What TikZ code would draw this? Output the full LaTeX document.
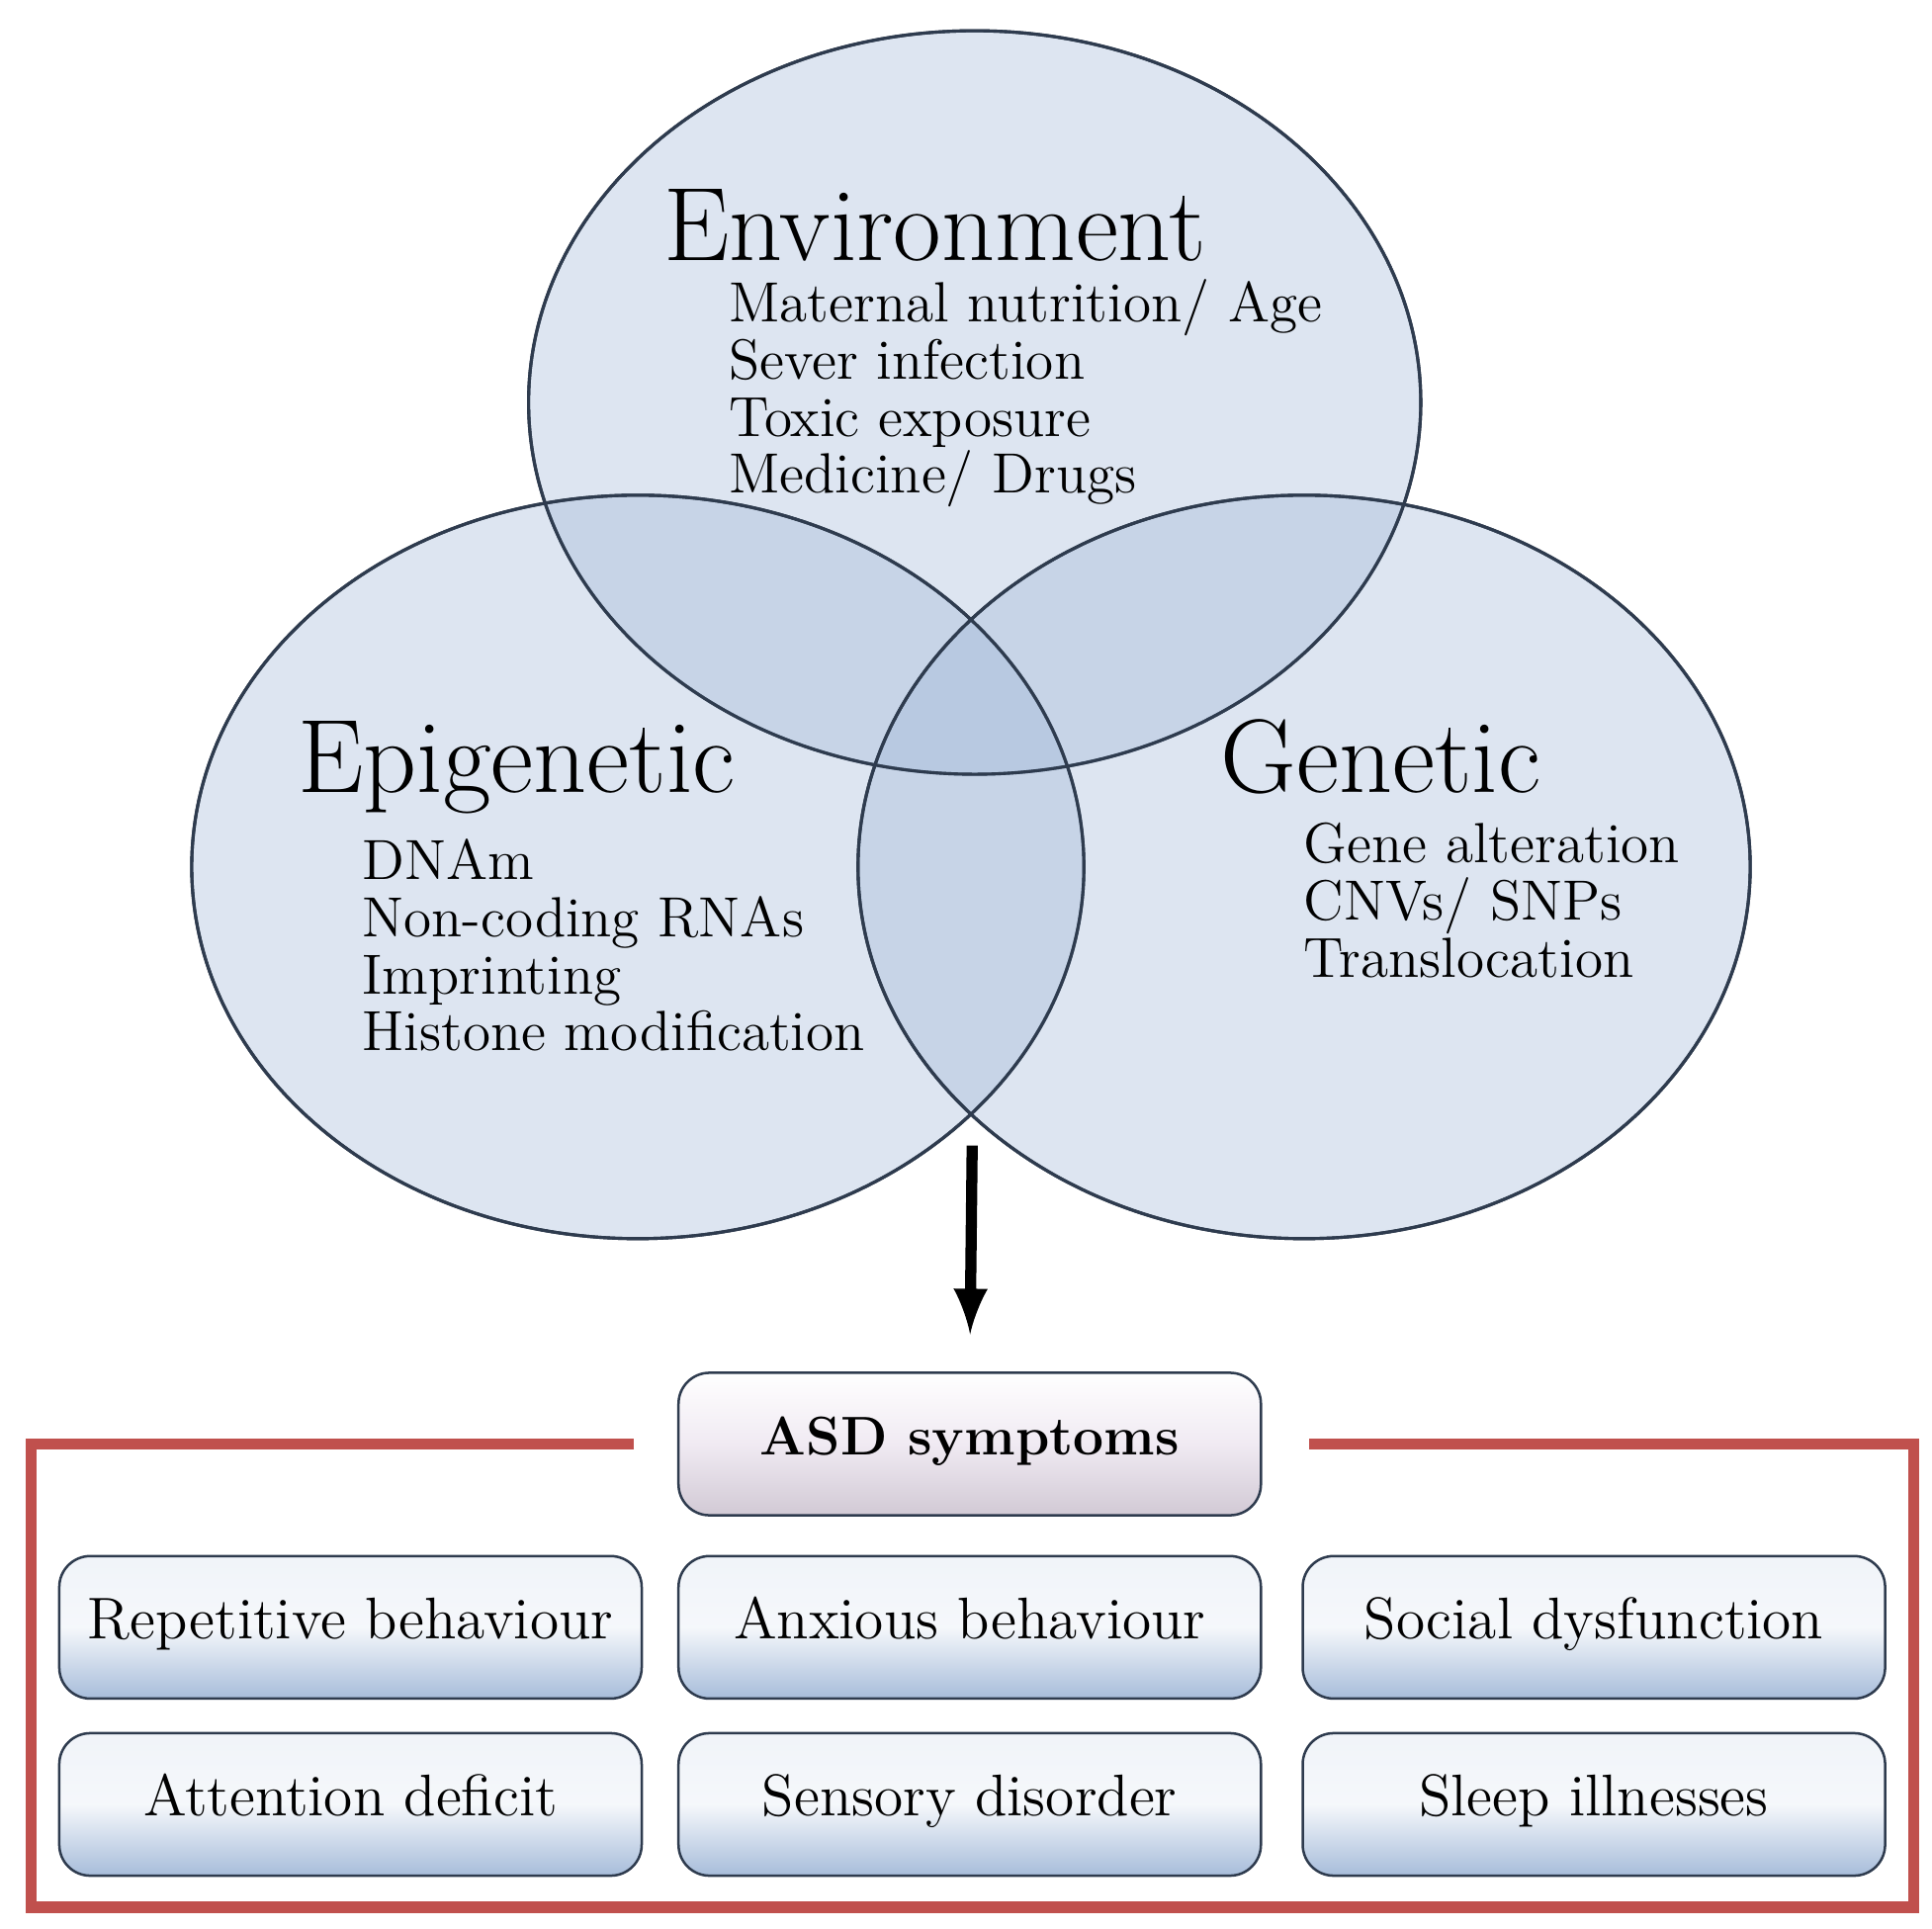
\documentclass[tikz,border=0pt]{standalone}
\usetikzlibrary{calc}
\definecolor{ringblue}{HTML}{9DB5D6}
\definecolor{edgeblue}{HTML}{2E3B4E}
\definecolor{boxred}{HTML}{C0504D}
\definecolor{asdpink}{HTML}{E6DCEA}

\tikzset{
	venn/.style={
		draw=edgeblue,
		line width=0.25mm,
		fill=ringblue,
		fill opacity=0.35,
		text opacity=1,
	},
	title/.style={
		anchor=base west,
		inner sep=0pt,
		font=\fontsize{24}{28}\selectfont,
	},
	item/.style={
		anchor=north west,
		align=left,
		inner sep=0pt,
		font=\fontsize{13}{13.1}\selectfont,
	},
	symbox/.style={
		draw=edgeblue,
		line width=0.2mm,
		rounded corners=2.5mm,
		top color=white!85!ringblue,
		bottom color=ringblue!90,
		middle color=white!90!ringblue,
		minimum width=4.7cm,
		minimum height=1.15cm,
		text height=1.6ex,
		text depth=0.4ex,
		font=\fontsize{13.5}{15}\selectfont,
	},
}

\begin{document}
\begin{tikzpicture}[x=0.01cm,y=-0.01cm]
\useasboundingbox (0,0) rectangle (1560,1557);

% three circles
\fill[venn] (787,325) ellipse [x radius=3.6cm, y radius=3.0cm];
\fill[venn] (515,700) ellipse [x radius=3.6cm, y radius=3.0cm];
\fill[venn] (1053,700) ellipse [x radius=3.6cm, y radius=3.0cm];
\draw[draw=edgeblue, line width=0.25mm] (787,325) ellipse [x radius=3.6cm, y radius=3.0cm];
\draw[draw=edgeblue, line width=0.25mm] (515,700) ellipse [x radius=3.6cm, y radius=3.0cm];
\draw[draw=edgeblue, line width=0.25mm] (1053,700) ellipse [x radius=3.6cm, y radius=3.0cm];

% labels
\node[title] (env) at (535,210) {Environment};
\node[item] (envlist) at (588,225) {Maternal nutrition/ Age\\Sever infection\\Toxic exposure\\Medicine/ Drugs};
\node[title] (epi) at (240,640) {Epigenetic};
\node[item] (epilist) at (292,677) {DNAm\\Non-coding RNAs\\Imprinting\\Histone modification};
\node[title] (gen) at (985,640) {Genetic};
\node[item] (genlist) at (1052,664) {Gene alteration\\CNVs/ SNPs\\Translocation};

% symptoms
\coordinate (top) at (785,925);
\node[symbox, top color=white, bottom color=asdpink!80!gray, middle color=asdpink!60, font=\bfseries\fontsize{12.5}{14}\selectfont] (asd) at (783,1166) {ASD symptoms};
\draw[-latex, line width=0.9mm, shorten >=0.3cm] (top) -- (asd.north);

\node[symbox] (rep) at (283,1314) {Repetitive behaviour};
\node[symbox] (anx) at (783,1314) {Anxious behaviour};
\node[symbox] (soc) at (1287,1314) {Social dysfunction};
\node[symbox] (att) at (283,1457) {Attention deficit};
\node[symbox] (sen) at (783,1457) {Sensory disorder};
\node[symbox] (slp) at (1287,1457) {Sleep illnesses};

\draw[boxred, line width=0.9mm] ($(asd.west)+(-35,0)$) -- (25,1166) -- (25,1540) -- (1545,1540) -- (1545,1166) -- ($(asd.east)+(38,0)$);
\end{tikzpicture}
\end{document}
